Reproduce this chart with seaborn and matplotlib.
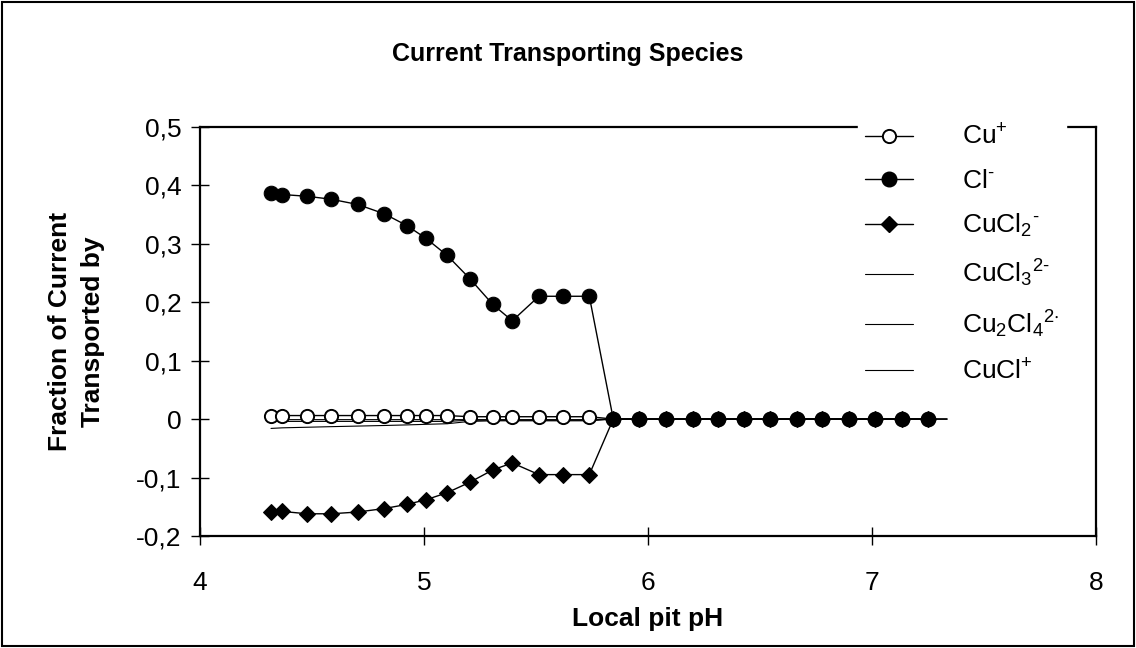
import numpy as np
import pandas as pd
import matplotlib
matplotlib.use("Agg")
import matplotlib.pyplot as plt
import seaborn as sns
from matplotlib.patches import Rectangle
from matplotlib.ticker import FuncFormatter
from matplotlib.lines import Line2D

# ---- data ----
ph = [4.317, 4.368, 4.478, 4.585, 4.704, 4.823, 4.923, 5.009, 5.103, 5.205,
      5.307, 5.394, 5.513, 5.621, 5.738, 5.845, 5.960, 6.080, 6.202, 6.313,
      6.429, 6.545, 6.664, 6.775, 6.899, 7.013, 7.133, 7.251, 7.335]

zeros_tail = [0.0] * 13  # points from pH 5.845 to 7.251

cu_plus = [0.006, 0.006, 0.006, 0.006, 0.006, 0.006, 0.006, 0.006, 0.006,
           0.004, 0.004, 0.004, 0.004, 0.004, 0.004] + zeros_tail
cl_minus = [0.386, 0.384, 0.381, 0.376, 0.367, 0.351, 0.331, 0.309, 0.280,
            0.240, 0.196, 0.168, 0.210, 0.210, 0.210] + zeros_tail
cucl2 = [-0.159, -0.158, -0.162, -0.162, -0.159, -0.153, -0.146, -0.138,
         -0.126, -0.108, -0.087, -0.075, -0.095, -0.095, -0.095] + zeros_tail
cucl3 = [-0.004, -0.004, -0.004, -0.004, -0.004, -0.004, -0.004, -0.004,
         -0.004, -0.002, -0.002, -0.002, -0.002, -0.002, -0.002] + zeros_tail + [0.0]
cu2cl4 = [-0.016, -0.015, -0.014, -0.013, -0.012, -0.011, -0.010, -0.009,
          -0.008, -0.004, -0.003, -0.003, -0.003, -0.003, -0.003] + zeros_tail + [0.0]
cucl_plus = [-0.001] * 15 + zeros_tail + [0.0]

labels = [r"Cu$\mathregular{^{+}}$",
          r"Cl$\mathregular{^{\text{-}}}$",
          r"CuCl$\mathregular{_{2}}$$\mathregular{^{\text{-}}}$",
          r"CuCl$\mathregular{_{3}}$$\mathregular{^{2\text{-}}}$",
          r"Cu$\mathregular{_2}$Cl$\mathregular{_{4}}$$\mathregular{^{2{\cdot}}}$",
          r"CuCl$\mathregular{^{+}}$"]

xticks = [4, 5, 6, 7, 8]
yticks = [-0.2, -0.1, 0, 0.1, 0.2, 0.3, 0.4, 0.5]

title = "Current Transporting Species"
xlabel = "Local pit pH"
ylabel = "Fraction of Current\nTransported by"

# ---- style ----
sns.set_theme(style="white")
plt.rcParams['font.family'] = ['Liberation Sans', 'DejaVu Sans']
plt.rcParams['mathtext.fontset'] = 'custom'
plt.rcParams['mathtext.rm'] = 'Liberation Sans'
plt.rcParams['text.color'] = 'black'
plt.rcParams['axes.labelcolor'] = 'black'
plt.rcParams['xtick.color'] = 'black'
plt.rcParams['ytick.color'] = 'black'

fig = plt.figure(figsize=(11.36, 6.48), dpi=100)
fig.patch.set_facecolor("white")
ax = fig.add_axes([200/1136, 1-536/648, 896/1136, 409.3/648])

def line(x, y, **kw):
    df = pd.DataFrame({"x": x, "y": y})
    sns.lineplot(data=df, x="x", y="y", ax=ax, sort=False, estimator=None,
                 color="black", **kw)

n = len(cl_minus)
line(ph, cucl3, linewidth=0.8)
line(ph, cu2cl4, linewidth=0.8)
line(ph, cucl_plus, linewidth=0.8)
line(ph[:n], cucl2, linewidth=1.0, marker="D", markersize=8.5,
     markerfacecolor="black", markeredgecolor="black")
line(ph[:n], cu_plus, linewidth=1.0, marker="o", markersize=9.5,
     markerfacecolor="white", markeredgecolor="black", markeredgewidth=1.4)
line(ph[:n], cl_minus, linewidth=1.0, marker="o", markersize=10.5,
     markerfacecolor="black", markeredgecolor="black")

ax.set_xlim(4, 8)
ax.set_ylim(-0.2, 0.5)
ax.set_xticks(xticks)
ax.set_yticks(yticks)

def fmt(v, pos):
    if abs(v) < 1e-9:
        return "0"
    return f"{v:.1f}".replace(".", ",")

ax.yaxis.set_major_formatter(FuncFormatter(fmt))
ax.xaxis.set_major_formatter(FuncFormatter(lambda v, p: f"{v:.0f}"))
ax.tick_params(axis="both", which="major", bottom=True, left=True,
               direction="inout", length=13, width=1.0,
               color="black", labelsize=19, labelcolor="black")
ax.tick_params(axis="y", pad=7)
ax.tick_params(axis="x", pad=19)
for s in ax.spines.values():
    s.set_visible(True)
    s.set_color("black")
    s.set_linewidth(1.6)

ax.set_xlabel(xlabel, fontsize=19, fontweight="bold", labelpad=8)
ax.set_ylabel(ylabel, fontsize=19, fontweight="bold", labelpad=22,
              linespacing=1.5)
fig.text(0.5, 1-54/648, title, ha="center", va="center",
         fontsize=18, fontweight="bold")

handles = [
    Line2D([], [], color="black", lw=1.0, marker="o", markersize=9.5,
           markerfacecolor="white", markeredgecolor="black", markeredgewidth=1.4),
    Line2D([], [], color="black", lw=1.0, marker="o", markersize=10.5,
           markerfacecolor="black"),
    Line2D([], [], color="black", lw=1.0, marker="D", markersize=8.5,
           markerfacecolor="black"),
    Line2D([], [], color="black", lw=0.8),
    Line2D([], [], color="black", lw=0.8),
    Line2D([], [], color="black", lw=0.8),
]
leg = ax.legend(handles, labels, loc="upper left",
                bbox_to_anchor=(858/1136, 1-118/648), bbox_transform=fig.transFigure,
                frameon=True, fontsize=19, handlelength=1.82, handletextpad=1.86,
                labelspacing=0.72, borderpad=0.25, borderaxespad=0)
leg.get_frame().set_facecolor("white")
leg.get_frame().set_edgecolor("white")
leg.get_frame().set_alpha(1)
leg.get_frame().set_boxstyle("square", pad=0)

fig.add_artist(Rectangle((2/1136, 2/648), 1132/1136, 644/648, transform=fig.transFigure,
                         fill=False, edgecolor="black", linewidth=1.5))

fig.savefig("out.png", dpi=100, facecolor="white")
